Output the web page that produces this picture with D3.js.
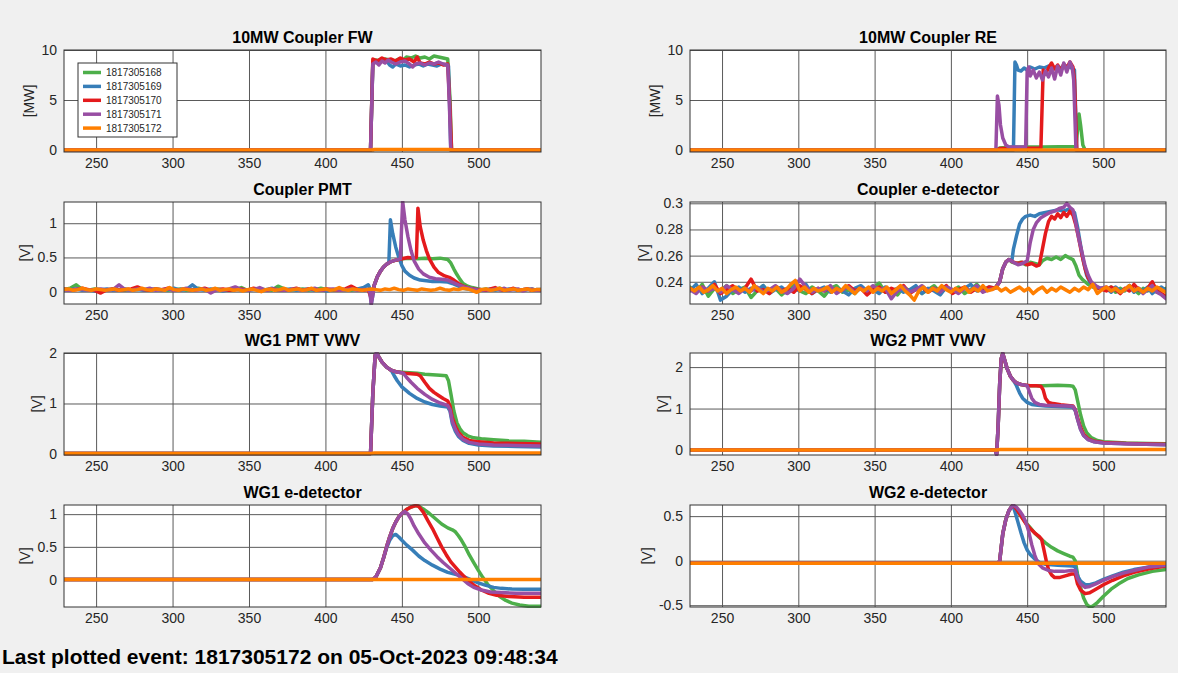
<!DOCTYPE html>
<html><head><meta charset="utf-8">
<script src="https://cdn.jsdelivr.net/npm/d3@7"></script>
<style>
body{margin:0;background:#f0f0f0;}
svg{display:block;font-family:"Liberation Sans",Arial,Helvetica,sans-serif;}
</style></head><body>
<svg id="chart" width="1178" height="673"></svg>
<script>
// ---------- shared ----------
const xDomain = [229, 541];
const xTicks = [250, 300, 350, 400, 450, 500];
const seriesNames = ["1817305168", "1817305169", "1817305170", "1817305171", "1817305172"];
const seriesColors = ["#4daf4a", "#377eb8", "#e41a1c", "#984ea3", "#ff7f00"];
const panelTitles = ["10MW Coupler FW", "10MW Coupler RE", "Coupler PMT", "Coupler e-detector",
                     "WG1 PMT VWV", "WG2 PMT VWV", "WG1 e-detector", "WG2 e-detector"];
const panelUnits = ["[MW]", "[MW]", "[V]", "[V]", "[V]", "[V]", "[V]", "[V]"];
const yDomains = [[-0.2, 10], [-0.2, 10], [-0.18, 1.31], [0.223, 0.301],
                  [-0.02, 2.0], [-0.12, 2.34], [-0.42, 1.14], [-0.52, 0.625]];
const yTickValues = [[0, 5, 10], [0, 5, 10], [0, 0.5, 1], [0.24, 0.26, 0.28, 0.3],
                     [0, 1, 2], [0, 1, 2], [0, 0.5, 1], [-0.5, 0, 0.5]];
const footerText = "Last plotted event: 1817305172 on 05-Oct-2023 09:48:34";

// ---------- 10MW Coupler FW ----------
const fw168 = [[229,0],[429.5,0],[431,8.8],[433,9.0],[436,8.9],[439,9.1],[442,9.0],[445,8.9],[448,9.1],[451,9.0],[453,9.3],[456,9.2],[459,9.4],[462,9.2],[465,9.3],[468,9.1],[471,9.4],[474,9.3],[477,9.2],[480,9.1],[481.5,5],[482.5,0],[541,0]];
const fw169 = [[229,0],[429.5,0],[431,8.7],[434,8.9],[437,9.1],[440,8.9],[442,8.5],[444,8.3],[446,8.6],[449,8.4],[452,8.5],[455,8.3],[458,8.5],[461,8.6],[464,8.4],[467,8.6],[470,8.5],[473,8.4],[476,8.6],[479,8.5],[480.5,8.4],[482,0],[541,0]];
const fw170 = [[229,0],[429.5,0],[431,9.1],[434,8.9],[437,9.2],[440,9.0],[443,9.1],[446,8.9],[449,9.2],[452,9.0],[455,9.1],[458,8.8],[460,9.3],[462,8.7],[465,8.6],[468,8.8],[471,8.6],[474,8.7],[477,8.5],[480,8.6],[481.5,4],[482.5,0],[541,0]];
const fw171 = [[229,0],[429.5,0],[431,8.6],[433,8.8],[435,8.5],[437,8.9],[439,8.7],[441,9.0],[443,8.8],[446,8.6],[449,8.8],[452,8.9],[455,8.6],[457,8.3],[459,8.6],[462,8.7],[465,8.5],[468,8.7],[471,8.6],[474,8.8],[477,8.6],[480,8.5],[481,5],[482,0],[541,0]];
const fw172 = [[229,0],[431,0],[432,0.05],[481,0.05],[482,0],[541,0]];

// ---------- 10MW Coupler RE ----------
const re168 = [[229,0],[430,0],[432,0.2],[440,0.3],[460,0.3],[482,0.35],[483,2],[484,3.6],[485,2.5],[486.5,0.5],[488,0],[541,0]];
const re169 = [[229,0],[441,0],[442,8.8],[443,8.5],[444,8.0],[446,7.9],[448,8.2],[450,8.0],[452,8.3],[455,8.1],[458,8.3],[461,8.2],[464,8.4],[467,8.1],[470,8.3],[473,8.2],[476,8.4],[479,8.2],[481,8.0],[482.5,0],[541,0]];
const re170 = [[229,0],[430,0],[432,0.15],[459,0.2],[460.5,8.0],[462,7.6],[464,8.2],[466,8.7],[468,8.1],[470,8.5],[472,7.9],[474,8.6],[476,8.2],[478,8.8],[480,8.3],[481,7],[482.5,0],[541,0]];
const re171 = [[229,0],[429.5,0],[430.5,5.4],[431.5,4.5],[432.5,2.5],[434,1.2],[436,0.5],[438,0.3],[449,0.3],[450,7.9],[451,8.3],[452,7.4],[454,8.0],[456,7.2],[458,7.8],[460,7.0],[462,7.9],[464,7.3],[466,8.2],[468,7.1],[470,8.4],[472,7.5],[474,8.7],[476,7.8],[478,8.8],[479.5,8.3],[480.5,7],[482,0],[541,0]];
const re172 = [[229,0],[541,0]];

// ---------- Coupler PMT ----------
const cpmtNoise168 = [0.03,0.05,0.10,0.03,0.02,0.04,0.03,0.02,0.04,0.03,0.02,0.03,0.05,0.03,0.02,0.04,0.03,0.02,0.03,0.04,0.02,0.03,0.05,0.03,0.02,0.04,0.03,0.02,0.03,0.06,0.02,0.03,0.04,0.03,0.02,0.08,0.04,0.02,0.03,0.04,0.02,0.03,0.05,0.03,0.02,0.04,0.03,0.02,0.03,0.04];
const cpmtNoise169 = [0.02,0.03,0.04,0.02,0.03,0.01,0.03,0.04,0.02,0.03,0.04,0.02,0.03,0.02,0.04,0.03,0.02,0.03,0.05,0.02,0.03,0.10,0.03,0.02,0.04,0.03,0.01,0.03,0.04,0.02,0.03,0.04,0.02,0.03,0.05,0.02,0.03,0.04,0.02,0.03,0.04,0.02,0.03,0.01,0.03,0.04,0.02,0.03,0.04,0.06];
const cpmtNoise170 = [0.04,0.02,0.03,0.05,0.03,0.02,-0.02,0.03,0.04,0.02,0.03,0.04,0.07,0.03,0.02,0.04,0.03,0.05,0.02,0.03,0.04,0.02,0.03,0.05,0.02,0.03,0.04,0.02,0.03,0.04,0.02,0.05,0.03,0.02,0.04,0.03,0.02,0.03,0.05,0.02,0.04,0.03,0.02,0.04,0.03,0.02,0.04,0.08,0.03,0.02];
const cpmtNoise171 = [0.03,0.02,0.04,0.03,0.02,0.03,0.04,0.02,0.03,0.10,0.03,0.02,0.04,0.03,0.05,0.02,0.03,0.04,0.02,0.03,0.05,0.02,0.03,0.04,-0.02,0.03,0.02,0.04,0.07,0.03,0.02,0.03,0.06,0.02,0.04,0.03,0.02,0.03,0.04,0.02,0.03,0.05,0.02,0.03,0.04,0.02,0.03,0.04,0.02,0.03];
const cpmtNoise172 = [0.03,0.04,0.02,0.03,0.05,0.03,0.02,0.04,0.03,0.02,0.03,0.04,0.02,0.03,0.04,0.02,0.03,0.05,0.03,0.02,0.04,0.03,0.02,0.06,0.03,0.02,0.04,0.03,0.02,0.03,0.04,0.02,0.03,0.05,0.02,0.03,0.04,0.02,0.03,0.01,0.03,0.04,0.02,0.00,0.03,0.04,0.02,0.03,0.05,0.02,0.03,0.04,0.02,0.03,0.05,0.02,0.03,0.04,0.02,0.03,0.06,0.03,0.02,0.04,0.03,0.02,0.03,0.04,0.03,0.02,0.04,0.03,0.05,0.03,0.02,0.04,0.03,0.02,0.04,0.03,0.02,0.03,0.05,0.03,0.02,0.04,0.03,0.05,0.04,0.02,-0.01,0.03,0.04,0.02,0.03,0.05,0.02,0.03,0.04,0.02,0.03,0.04,0.02,0.03,0.03];
const cpmtEvent168 = [[428,0.03],[430,-0.05],[431,0.0],[432,0.1],[434,0.22],[436,0.3],[438,0.36],[440,0.4],[443,0.44],[446,0.46],[450,0.48],[455,0.49],[460,0.48],[465,0.49],[470,0.48],[475,0.49],[480,0.47],[482,0.42],[484,0.33],[486,0.25],[488,0.18],[490,0.12],[493,0.08],[496,0.06],[500,0.04]];
const cpmtEvent169 = [[428,0.1],[429,0.05],[430,-0.18],[431,-0.05],[432,0.1],[434,0.22],[436,0.3],[438,0.36],[440,0.4],[441.5,0.43],[442.5,1.05],[444,0.85],[446,0.65],[448,0.5],[450,0.38],[452,0.3],[455,0.24],[458,0.2],[462,0.17],[466,0.16],[470,0.15],[475,0.15],[480,0.14],[483,0.12],[486,0.09],[490,0.05],[495,0.03],[500,0.03]];
const cpmtEvent170 = [[428,0.03],[430,-0.1],[431,-0.02],[432,0.1],[434,0.22],[436,0.3],[438,0.36],[440,0.4],[443,0.44],[446,0.46],[450,0.48],[454,0.5],[458,0.49],[459.5,0.5],[460.5,1.22],[462,0.95],[464,0.75],[466,0.6],[468,0.48],[471,0.36],[474,0.28],[478,0.23],[481,0.21],[484,0.17],[487,0.12],[490,0.08],[494,0.05],[500,0.03]];
const cpmtEvent171 = [[428,0.03],[429,0.0],[430,-0.18],[431,-0.05],[432,0.1],[434,0.22],[436,0.3],[438,0.36],[440,0.4],[443,0.44],[446,0.46],[449,0.48],[450.5,1.32],[452,1.05],[454,0.8],[456,0.6],[458,0.45],[461,0.33],[464,0.26],[468,0.21],[472,0.19],[476,0.18],[480,0.17],[484,0.13],[488,0.09],[492,0.06],[496,0.04],[500,0.02]];
const cpmtTail168 = [0.03,0.04,0.02,0.03,0.05,0.03,0.02,0.04,0.03,0.02,0.03,0.04,0.02,0.03];
const cpmtTail169 = [0.02,0.03,0.04,0.02,0.03,0.02,0.04,0.03,0.02,0.03,0.04,0.02,0.03,0.03];
const cpmtTail170 = [0.03,0.02,0.04,0.06,0.03,0.02,0.03,0.05,0.02,0.03,0.04,0.02,0.03,0.02];
const cpmtTail171 = [0.02,0.03,0.02,0.04,0.03,0.05,0.02,0.03,0.04,0.01,0.03,0.04,0.02,0.03];

// ---------- Coupler e-detector ----------
const cedNoise168 = [0.236,0.232,0.238,0.229,0.235,0.233,0.237,0.231,0.234,0.236,0.228,0.233,0.237,0.232,0.235,0.230,0.234,0.238,0.233,0.231,0.236,0.233,0.229,0.235,0.237,0.232,0.234,0.231,0.236,0.233,0.235,0.239,0.232,0.234,0.230,0.236,0.233,0.235,0.231,0.234,0.237,0.232,0.235,0.233,0.236,0.231,0.234,0.238,0.233,0.235];
const cedNoise169 = [0.233,0.238,0.231,0.235,0.240,0.226,0.229,0.234,0.236,0.232,0.235,0.233,0.237,0.231,0.234,0.236,0.232,0.235,0.233,0.238,0.231,0.234,0.236,0.232,0.235,0.233,0.230,0.235,0.237,0.233,0.234,0.231,0.236,0.233,0.235,0.232,0.234,0.237,0.231,0.235,0.233,0.230,0.236,0.234,0.232,0.235,0.238,0.233,0.234,0.236];
const cedNoise170 = [0.235,0.232,0.236,0.233,0.238,0.231,0.234,0.237,0.232,0.235,0.242,0.233,0.234,0.231,0.236,0.233,0.235,0.232,0.237,0.234,0.231,0.235,0.233,0.236,0.232,0.234,0.237,0.233,0.235,0.230,0.234,0.236,0.232,0.235,0.233,0.237,0.231,0.234,0.236,0.232,0.235,0.233,0.237,0.231,0.234,0.236,0.232,0.235,0.233,0.236];
const cedNoise171 = [0.234,0.231,0.236,0.233,0.235,0.232,0.237,0.234,0.231,0.235,0.233,0.236,0.232,0.234,0.237,0.233,0.231,0.235,0.242,0.236,0.232,0.235,0.233,0.237,0.231,0.234,0.236,0.232,0.235,0.233,0.237,0.234,0.235,0.227,0.233,0.236,0.232,0.234,0.237,0.233,0.235,0.232,0.236,0.234,0.231,0.235,0.233,0.237,0.232,0.234];
const cedNoise172 = [0.235,0.233,0.236,0.232,0.234,0.237,0.233,0.235,0.231,0.234,0.236,0.233,0.235,0.232,0.237,0.234,0.231,0.235,0.233,0.236,0.232,0.234,0.238,0.241,0.233,0.236,0.232,0.235,0.233,0.234,0.236,0.232,0.235,0.233,0.237,0.234,0.231,0.235,0.233,0.236,0.232,0.235,0.233,0.236,0.231,0.234,0.237,0.233,0.230,0.226,0.233,0.236,0.232,0.235,0.233,0.237,0.234,0.232,0.235,0.233,0.236,0.232,0.235,0.233,0.237,0.233,0.234,0.236,0.233,0.235,0.232,0.234,0.236,0.233,0.235,0.231,0.234,0.236,0.232,0.235,0.233,0.236,0.234,0.232,0.235,0.233,0.236,0.234,0.238,0.231,0.234,0.236,0.233,0.235,0.232,0.234,0.237,0.233,0.235,0.232,0.235,0.233,0.236,0.234,0.232];
const cedEvent168 = [[429,0.235],[432,0.24],[434,0.25],[436,0.255],[438,0.257],[440,0.255],[443,0.254],[446,0.255],[449,0.253],[452,0.255],[455,0.254],[458,0.253],[460,0.256],[463,0.258],[466,0.257],[469,0.259],[472,0.257],[475,0.26],[478,0.258],[480,0.257],[482,0.252],[484,0.245],[486,0.242],[488,0.24],[490,0.238],[493,0.236],[496,0.235]];
const cedEvent169 = [[429,0.235],[432,0.24],[434,0.25],[436,0.255],[438,0.257],[440,0.256],[441,0.265],[443,0.275],[445,0.284],[447,0.288],[449,0.29],[452,0.291],[455,0.29],[458,0.292],[462,0.293],[466,0.294],[470,0.295],[474,0.294],[478,0.296],[481,0.293],[483,0.282],[485,0.268],[487,0.255],[489,0.245],[491,0.24],[494,0.237],[497,0.235]];
const cedEvent170 = [[429,0.235],[432,0.24],[434,0.25],[436,0.255],[438,0.257],[441,0.255],[444,0.254],[447,0.255],[450,0.253],[453,0.254],[456,0.252],[458,0.253],[460,0.265],[462,0.277],[464,0.286],[466,0.29],[468,0.288],[470,0.292],[472,0.289],[474,0.293],[476,0.29],[478,0.294],[480,0.291],[482,0.283],[484,0.272],[486,0.26],[488,0.25],[490,0.243],[493,0.238],[497,0.235]];
const cedEvent171 = [[429,0.235],[432,0.24],[434,0.25],[436,0.255],[438,0.257],[441,0.255],[444,0.253],[447,0.254],[450,0.256],[452,0.27],[454,0.28],[456,0.285],[459,0.289],[462,0.291],[465,0.293],[468,0.294],[471,0.296],[474,0.297],[476,0.3],[478,0.297],[480,0.295],[482,0.284],[484,0.272],[486,0.262],[488,0.252],[490,0.245],[492,0.24],[495,0.237],[498,0.235]];
const cedTail168 = [0.234,0.236,0.232,0.235,0.233,0.237,0.234,0.231,0.235,0.233,0.236,0.232,0.234,0.235];
const cedTail169 = [0.235,0.232,0.236,0.233,0.234,0.237,0.232,0.235,0.233,0.236,0.231,0.234,0.236,0.233];
const cedTail170 = [0.233,0.236,0.234,0.231,0.235,0.233,0.238,0.234,0.232,0.235,0.240,0.233,0.231,0.229];
const cedTail171 = [0.236,0.233,0.235,0.232,0.234,0.236,0.233,0.235,0.231,0.234,0.237,0.232,0.230,0.227];

// ---------- WG1 PMT VWV ----------
const wg1pmt168 = [[229,0.01],[429.5,0.01],[431,1.2],[432.5,1.95],[433.5,2.0],[435,1.92],[437,1.82],[440,1.72],[443,1.66],[446,1.63],[450,1.62],[455,1.61],[460,1.6],[465,1.58],[470,1.57],[475,1.56],[479,1.55],[480.5,1.45],[482,1.2],[484,0.85],[486,0.62],[488,0.5],[490,0.42],[493,0.36],[497,0.32],[502,0.3],[510,0.28],[520,0.26],[530,0.25],[541,0.23]];
const wg1pmt169 = [[229,0.01],[429.5,0.01],[431,1.2],[432.5,1.95],[433.5,2.0],[435,1.92],[437,1.82],[440,1.72],[443,1.66],[445,1.55],[447,1.45],[450,1.33],[455,1.2],[460,1.1],[465,1.03],[470,0.98],[475,0.95],[480,0.93],[481.5,0.85],[483,0.6],[485,0.45],[487,0.35],[490,0.27],[494,0.21],[500,0.18],[510,0.16],[525,0.15],[541,0.14]];
const wg1pmt170 = [[229,0.01],[429.5,0.01],[431,1.2],[432.5,1.95],[433.5,2.0],[435,1.92],[437,1.82],[440,1.72],[443,1.66],[446,1.63],[448,1.62],[452,1.6],[456,1.59],[460,1.58],[462,1.55],[465,1.42],[468,1.3],[471,1.22],[474,1.16],[477,1.1],[480,1.05],[481.5,0.95],[483,0.72],[485,0.55],[487,0.43],[490,0.33],[494,0.27],[500,0.24],[510,0.22],[525,0.21],[541,0.2]];
const wg1pmt171 = [[229,0.01],[429.5,0.01],[431,1.2],[432.5,1.95],[433.5,2.0],[435,1.92],[437,1.82],[440,1.72],[443,1.66],[446,1.63],[448,1.62],[451,1.6],[453,1.52],[456,1.42],[460,1.3],[465,1.18],[470,1.08],[475,1.01],[480,0.96],[481.5,0.88],[483,0.65],[485,0.49],[487,0.38],[490,0.29],[494,0.23],[500,0.2],[510,0.18],[525,0.17],[541,0.16]];
const wg1pmt172 = [[229,0.01],[430,0.01],[432,0.02],[541,0.02]];

// ---------- WG2 PMT VWV ----------
const wg2pmt168 = [[229,0],[429,0],[430,-0.1],[431,0.6],[432,1.6],[433,2.2],[434,2.33],[435,2.2],[437,1.95],[439,1.78],[441,1.68],[443,1.62],[446,1.58],[450,1.55],[460,1.55],[470,1.56],[478,1.55],[480,1.54],[481.5,1.45],[483,1.2],[485,0.85],[487,0.58],[489,0.42],[492,0.3],[496,0.23],[500,0.2],[515,0.17],[530,0.16],[541,0.15]];
const wg2pmt169 = [[229,0],[429,0],[430,-0.1],[431,0.6],[432,1.6],[433,2.2],[434,2.33],[435,2.2],[437,1.95],[439,1.78],[441,1.68],[443,1.55],[445,1.38],[447,1.25],[450,1.15],[453,1.1],[457,1.08],[462,1.06],[470,1.05],[478,1.04],[480,1.03],[481.5,0.95],[483,0.75],[485,0.5],[487,0.35],[490,0.25],[494,0.2],[500,0.17],[515,0.15],[541,0.13]];
const wg2pmt170 = [[229,0],[429,0],[430,-0.1],[431,0.6],[432,1.6],[433,2.2],[434,2.33],[435,2.2],[437,1.95],[439,1.78],[441,1.68],[443,1.62],[446,1.58],[448,1.57],[452,1.55],[456,1.55],[459,1.54],[460.5,1.45],[462,1.25],[464,1.15],[467,1.12],[472,1.09],[478,1.07],[480,1.06],[481.5,0.98],[483,0.78],[485,0.55],[487,0.38],[490,0.27],[494,0.21],[500,0.18],[515,0.16],[541,0.14]];
const wg2pmt171 = [[229,0],[429,0],[430,-0.12],[431,0.6],[432,1.6],[433,2.2],[434,2.33],[435,2.2],[437,1.95],[439,1.78],[441,1.68],[443,1.62],[446,1.58],[448,1.57],[450,1.55],[451,1.45],[453,1.25],[455,1.15],[458,1.1],[462,1.08],[470,1.07],[478,1.06],[480,1.05],[481.5,0.97],[483,0.75],[485,0.5],[487,0.35],[490,0.25],[494,0.2],[500,0.17],[515,0.15],[541,0.13]];
const wg2pmt172 = [[229,0],[430,0],[432,0.01],[541,0.01]];

// ---------- WG1 e-detector ----------
const wg1ed168 = [[229,0],[431,0],[433,0.04],[436,0.18],[438,0.33],[440,0.5],[442,0.65],[444,0.78],[446,0.88],[448,0.96],[450,1.01],[453,1.07],[456,1.11],[459,1.13],[461,1.12],[464,1.08],[468,1.01],[472,0.93],[476,0.85],[480,0.79],[483,0.76],[485,0.73],[487,0.67],[489,0.6],[491,0.52],[494,0.38],[497,0.26],[500,0.14],[503,0.03],[506,-0.07],[510,-0.17],[514,-0.26],[518,-0.32],[522,-0.36],[527,-0.39],[533,-0.41],[541,-0.41]];
const wg1ed169 = [[229,0],[431,0],[433,0.04],[436,0.18],[438,0.33],[440,0.48],[442,0.6],[444,0.67],[446,0.69],[448,0.65],[450,0.6],[453,0.53],[457,0.45],[461,0.36],[465,0.29],[470,0.22],[475,0.16],[480,0.11],[485,0.08],[490,0.05],[495,0.0],[500,-0.05],[505,-0.09],[510,-0.12],[515,-0.135],[522,-0.145],[530,-0.15],[541,-0.15]];
const wg1ed170 = [[229,0],[431,0],[433,0.04],[436,0.18],[438,0.33],[440,0.5],[442,0.65],[444,0.78],[446,0.88],[448,0.96],[450,1.01],[453,1.07],[456,1.11],[459,1.13],[461,1.12],[464,1.03],[467,0.9],[470,0.78],[473,0.64],[476,0.5],[479,0.38],[482,0.27],[485,0.19],[488,0.11],[491,0.04],[494,-0.03],[498,-0.1],[502,-0.16],[507,-0.21],[512,-0.24],[520,-0.26],[530,-0.27],[541,-0.27]];
const wg1ed171 = [[229,0],[431,0],[433,0.04],[436,0.18],[438,0.33],[440,0.5],[442,0.65],[444,0.78],[446,0.88],[448,0.96],[450,1.01],[452,1.04],[454,1.0],[456,0.92],[458,0.82],[461,0.7],[465,0.56],[469,0.45],[473,0.35],[477,0.26],[481,0.18],[485,0.1],[489,0.02],[493,-0.06],[497,-0.12],[502,-0.16],[508,-0.19],[515,-0.2],[525,-0.21],[541,-0.21]];
const wg1ed172 = [[229,0],[541,0]];

// ---------- WG2 e-detector ----------
const wg2ed168 = [[229,-0.03],[431,-0.03],[432,0.0],[434,0.3],[436,0.46],[438,0.56],[440,0.61],[441,0.62],[443,0.57],[446,0.5],[449,0.43],[452,0.37],[455,0.31],[458,0.26],[462,0.2],[466,0.15],[470,0.11],[474,0.08],[478,0.05],[480,0.04],[481.5,0.0],[483,-0.15],[485,-0.3],[487,-0.42],[489,-0.49],[491,-0.52],[493,-0.51],[496,-0.47],[500,-0.4],[505,-0.32],[510,-0.26],[516,-0.2],[523,-0.16],[532,-0.12],[541,-0.1]];
const wg2ed169 = [[229,-0.03],[431,-0.03],[432,0.0],[434,0.3],[436,0.46],[438,0.56],[440,0.61],[441,0.6],[442,0.55],[444,0.43],[446,0.31],[448,0.2],[450,0.12],[452,0.07],[455,0.02],[458,-0.02],[462,-0.04],[470,-0.05],[480,-0.06],[481.5,-0.07],[483,-0.17],[485,-0.23],[488,-0.27],[491,-0.27],[495,-0.25],[500,-0.21],[506,-0.17],[513,-0.13],[520,-0.1],[530,-0.07],[541,-0.05]];
const wg2ed170 = [[229,-0.03],[431,-0.03],[432,0.0],[434,0.3],[436,0.46],[438,0.56],[440,0.61],[441,0.62],[443,0.58],[446,0.5],[449,0.42],[452,0.36],[455,0.31],[458,0.27],[459.5,0.24],[461,0.12],[462.5,0.0],[464,-0.1],[466,-0.16],[468,-0.19],[471,-0.19],[475,-0.17],[479,-0.15],[481.5,-0.15],[483,-0.26],[485,-0.33],[488,-0.37],[491,-0.36],[495,-0.32],[500,-0.27],[506,-0.22],[513,-0.17],[520,-0.13],[530,-0.09],[541,-0.06]];
const wg2ed171 = [[229,-0.03],[431,-0.03],[432,0.0],[434,0.3],[436,0.46],[438,0.56],[440,0.61],[441,0.62],[443,0.6],[445,0.56],[447,0.51],[449,0.44],[451,0.33],[453,0.18],[455,0.06],[457,-0.03],[460,-0.08],[464,-0.11],[468,-0.12],[474,-0.12],[479,-0.11],[481.5,-0.11],[483,-0.2],[485,-0.26],[488,-0.3],[491,-0.29],[495,-0.26],[500,-0.22],[506,-0.18],[513,-0.14],[520,-0.11],[530,-0.07],[541,-0.05]];
const wg2ed172 = [[229,-0.03],[541,-0.03]];

// ---------- assemble (sampled noise arrays are on a uniform time grid) ----------
const sampled = (start, step, ys) => ys.map((v, i) => [start + step * i, v]);
const join = (...parts) => [].concat(...parts).sort((a, b) => a[0] - b[0]);

const panelSeries = [
  [fw168, fw169, fw170, fw171, fw172],
  [re168, re169, re170, re171, re172],
  [join(sampled(229,4,cpmtNoise168), cpmtEvent168, sampled(502,3,cpmtTail168)),
   join(sampled(229,4,cpmtNoise169), cpmtEvent169, sampled(502,3,cpmtTail169)),
   join(sampled(229,4,cpmtNoise170), cpmtEvent170, sampled(502,3,cpmtTail170)),
   join(sampled(229,4,cpmtNoise171), cpmtEvent171, sampled(502,3,cpmtTail171)),
   sampled(229,3,cpmtNoise172)],
  [join(sampled(229,4,cedNoise168), cedEvent168, sampled(502,3,cedTail168)),
   join(sampled(229,4,cedNoise169), cedEvent169, sampled(502,3,cedTail169)),
   join(sampled(229,4,cedNoise170), cedEvent170, sampled(502,3,cedTail170)),
   join(sampled(229,4,cedNoise171), cedEvent171, sampled(502,3,cedTail171)),
   sampled(229,3,cedNoise172)],
  [wg1pmt168, wg1pmt169, wg1pmt170, wg1pmt171, wg1pmt172],
  [wg2pmt168, wg2pmt169, wg2pmt170, wg2pmt171, wg2pmt172],
  [wg1ed168, wg1ed169, wg1ed170, wg1ed171, wg1ed172],
  [wg2ed168, wg2ed169, wg2ed170, wg2ed171, wg2ed172]
];

// ---------- draw ----------
const svg = d3.select("#chart");
svg.append("rect").attr("width", 1178).attr("height", 673).attr("fill", "#f0f0f0");
const FONT = '"Liberation Sans", Arial, Helvetica, sans-serif';
const fmt = v => String(v);

panelTitles.forEach((title, i) => {
  const col = i % 2, row = Math.floor(i / 2);
  const L = col ? 690 : 64, R = col ? 1166 : 541;
  const T = Math.round(50 + row * 151.7), B = T + 102;
  const x = d3.scaleLinear().domain(xDomain).range([L, R]);
  const y = d3.scaleLinear().domain(yDomains[i]).range([B, T]);
  const g = svg.append("g");

  g.append("rect").attr("x", L).attr("y", T).attr("width", R - L).attr("height", B - T).attr("fill", "#ffffff");

  const gx = g.append("g").attr("transform", `translate(0,${B})`)
    .call(d3.axisBottom(x).tickValues(xTicks).tickSize(-(B - T)).tickPadding(6).tickFormat(fmt));
  const gy = g.append("g").attr("transform", `translate(${L},0)`)
    .call(d3.axisLeft(y).tickValues(yTickValues[i]).tickSize(-(R - L)).tickPadding(7).tickFormat(fmt));
  [gx, gy].forEach(ax => {
    ax.attr("font-family", FONT).attr("font-size", 14);
    ax.select(".domain").remove();
    ax.selectAll(".tick line").attr("stroke", "#5a5a5a").attr("stroke-width", 1);
    ax.selectAll(".tick text").attr("fill", "#262626");
  });

  const clipId = "clip" + i;
  g.append("clipPath").attr("id", clipId).append("rect")
    .attr("x", L).attr("y", T - 1).attr("width", R - L).attr("height", B - T + 2);
  const line = d3.line().x(d => x(d[0])).y(d => y(d[1]));
  g.append("g").attr("clip-path", `url(#${clipId})`)
    .selectAll("path").data(panelSeries[i]).join("path")
    .attr("d", line).attr("fill", "none")
    .attr("stroke", (d, k) => seriesColors[k])
    .attr("stroke-width", 3.5).attr("stroke-linejoin", "round").attr("stroke-linecap", "round");

  g.append("rect").attr("x", L).attr("y", T).attr("width", R - L).attr("height", B - T)
    .attr("fill", "none").attr("stroke", "#333333").attr("stroke-width", 1);

  g.append("text").attr("x", (L + R) / 2).attr("y", T - 7).attr("text-anchor", "middle")
    .attr("font-family", FONT).attr("font-size", 16).attr("font-weight", "bold").attr("fill", "#000")
    .text(title);

  let maxW = 0;
  gy.selectAll(".tick text").each(function () { maxW = Math.max(maxW, this.getComputedTextLength()); });
  const lx = L - 7 - maxW - 12, ly = (T + B) / 2;
  g.append("text").attr("transform", `translate(${lx},${ly}) rotate(-90)`)
    .attr("text-anchor", "middle").attr("dy", "0.35em")
    .attr("font-family", FONT).attr("font-size", 14).attr("fill", "#262626")
    .text(panelUnits[i]);

  if (i === 0) {
    const lg = g.append("g");
    lg.append("rect").attr("x", 78).attr("y", 63).attr("width", 99).attr("height", 74)
      .attr("fill", "#ffffff").attr("stroke", "#333333").attr("stroke-width", 1);
    seriesNames.forEach((name, k) => {
      const yy = 72.5 + k * 13.9;
      lg.append("line").attr("x1", 83).attr("x2", 101).attr("y1", yy).attr("y2", yy)
        .attr("stroke", seriesColors[k]).attr("stroke-width", 3.5);
      lg.append("text").attr("x", 106).attr("y", yy).attr("dy", "0.35em")
        .attr("font-family", FONT).attr("font-size", 10).attr("fill", "#262626").text(name);
    });
  }
});

svg.append("text").attr("x", 2).attr("y", 664)
  .attr("font-family", FONT).attr("font-size", 21).attr("font-weight", "bold").attr("fill", "#000")
  .text(footerText);
</script>
</body></html>
